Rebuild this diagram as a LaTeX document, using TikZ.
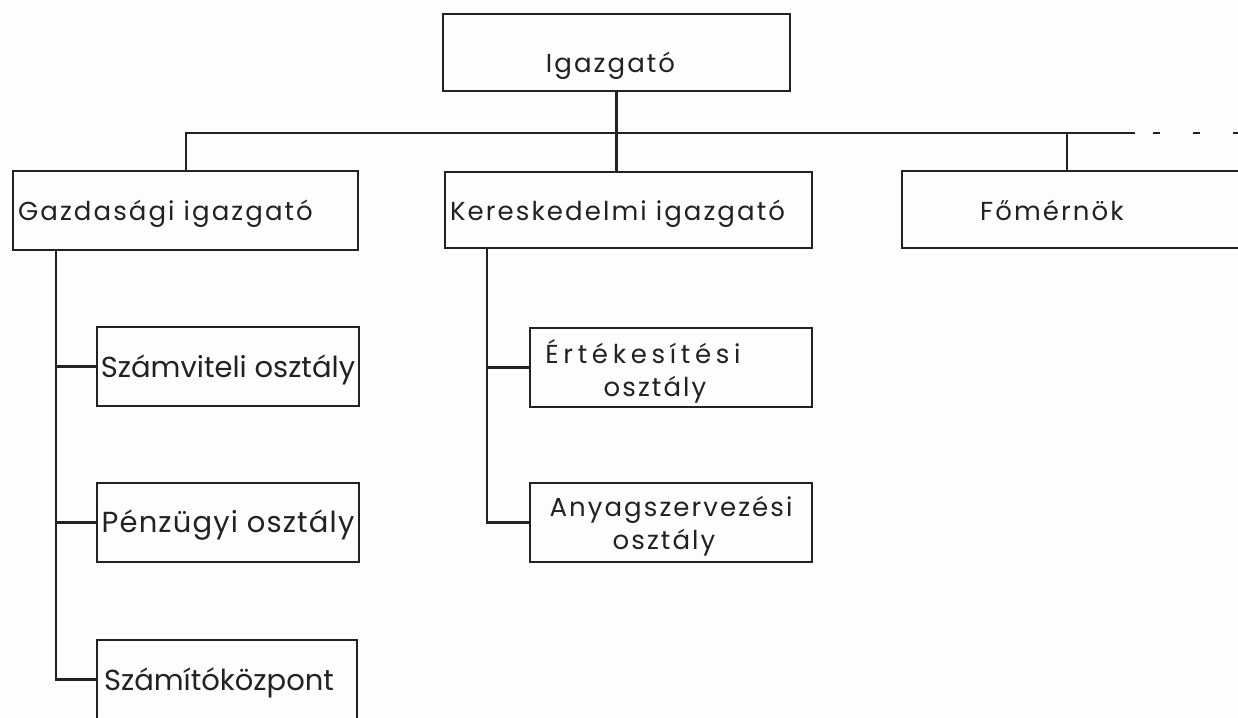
\documentclass[tikz,border=0pt]{standalone}
\usepackage{fontspec}
\setmainfont{Poppins}
\definecolor{ink}{HTML}{222222}
\definecolor{paper}{HTML}{FDFDFB}
% shift a line of text left by #1 without changing its width
\newcommand{\txtleft}[2]{\hspace*{-#1}#2\hspace*{#1}}
\begin{document}
\begin{tikzpicture}[x=1pt,y=-1pt,
  unit/.style={draw=ink, line width=2.6pt, rectangle, inner sep=0pt,
    text=ink, text depth=0pt,
    font=\fontsize{26}{33}\selectfont\addfontfeature{LetterSpace=8}},
  dept/.style={unit, font=\fontsize{29}{34}\selectfont},
  link/.style={draw=ink, line width=2.6pt},
  trail/.style={link, dash pattern=on 7pt off 33pt}]
  \fill[paper] (0,0) rectangle (1238,717);
  \clip (0,0) rectangle (1238,717);

  % top level
  \node[unit, text height=39pt, minimum width=347pt, minimum height=77pt] (ig) at (616.5,52.5)
    {\txtleft{6pt}{Igazgató}};

  % second level
  \node[unit, text height=19pt, minimum width=345pt, minimum height=79pt] (gaz) at (185.5,210.5)
    {\txtleft{20pt}{Gazdasági igazgató}};
  \node[unit, text height=20pt, minimum width=367pt, minimum height=76pt] (ker) at (628.5,210)
    {\txtleft{11pt}{Kereskedelmi igazgató}};
  \node[unit, text height=21pt, minimum width=348pt, minimum height=77pt] (fom) at (1076,209.5)
    {\txtleft{24pt}{Főmérnök}};

  % departments under the financial director
  \node[dept, text height=21pt, minimum width=262pt, minimum height=79pt] (szv) at (228,366.5)
    {Számviteli osztály};
  \node[dept, text height=19pt, minimum width=262pt, minimum height=79pt] (pen) at (228,522.5)
    {\addfontfeature{LetterSpace=4}Pénzügyi osztály};
  \node[dept, text height=21pt, minimum width=260pt, minimum height=79pt] (szk) at (227,679.5)
    {\txtleft{8pt}{Számítóközpont}};

  % departments under the commercial director
  \node[unit, minimum width=282pt, minimum height=79pt, align=center] (ert) at (671,367.5)
    {\txtleft{28pt}{\addfontfeature{LetterSpace=18}Értékesítési}\\\txtleft{16pt}{osztály}};
  \node[unit, minimum width=282pt, minimum height=79pt, align=center] (any) at (671,522.5)
    {Anyagszervezési\\\txtleft{7pt}{osztály}};

  % bus line
  \coordinate (busW) at (186,133);
  \coordinate (busE) at (1135,133);
  \coordinate (fomtap) at (1067,133);
  \coordinate (dashA) at (1153,133);
  \coordinate (dashB) at (1240,133);
  \draw[link] (ig.south) -- (ig.south |- ker.north);
  \draw[link] (gaz.north -| busW) -- (busW) -- (busE);
  \draw[link] (fomtap) -- (fomtap |- fom.north);
  \draw[trail] (dashA) -- (dashB);

  % trunk of the financial director
  \coordinate (gtr) at (56,250);
  \draw[link] (gtr |- gaz.south) |- (szk.west);
  \draw[link] (gtr |- szv.west) -- (szv.west);
  \draw[link] (gtr |- pen.west) -- (pen.west);

  % trunk of the commercial director
  \coordinate (ktr) at (487,248);
  \draw[link] (ktr |- ker.south) |- (any.west);
  \draw[link] (ktr |- ert.west) -- (ert.west);
\end{tikzpicture}
\end{document}
